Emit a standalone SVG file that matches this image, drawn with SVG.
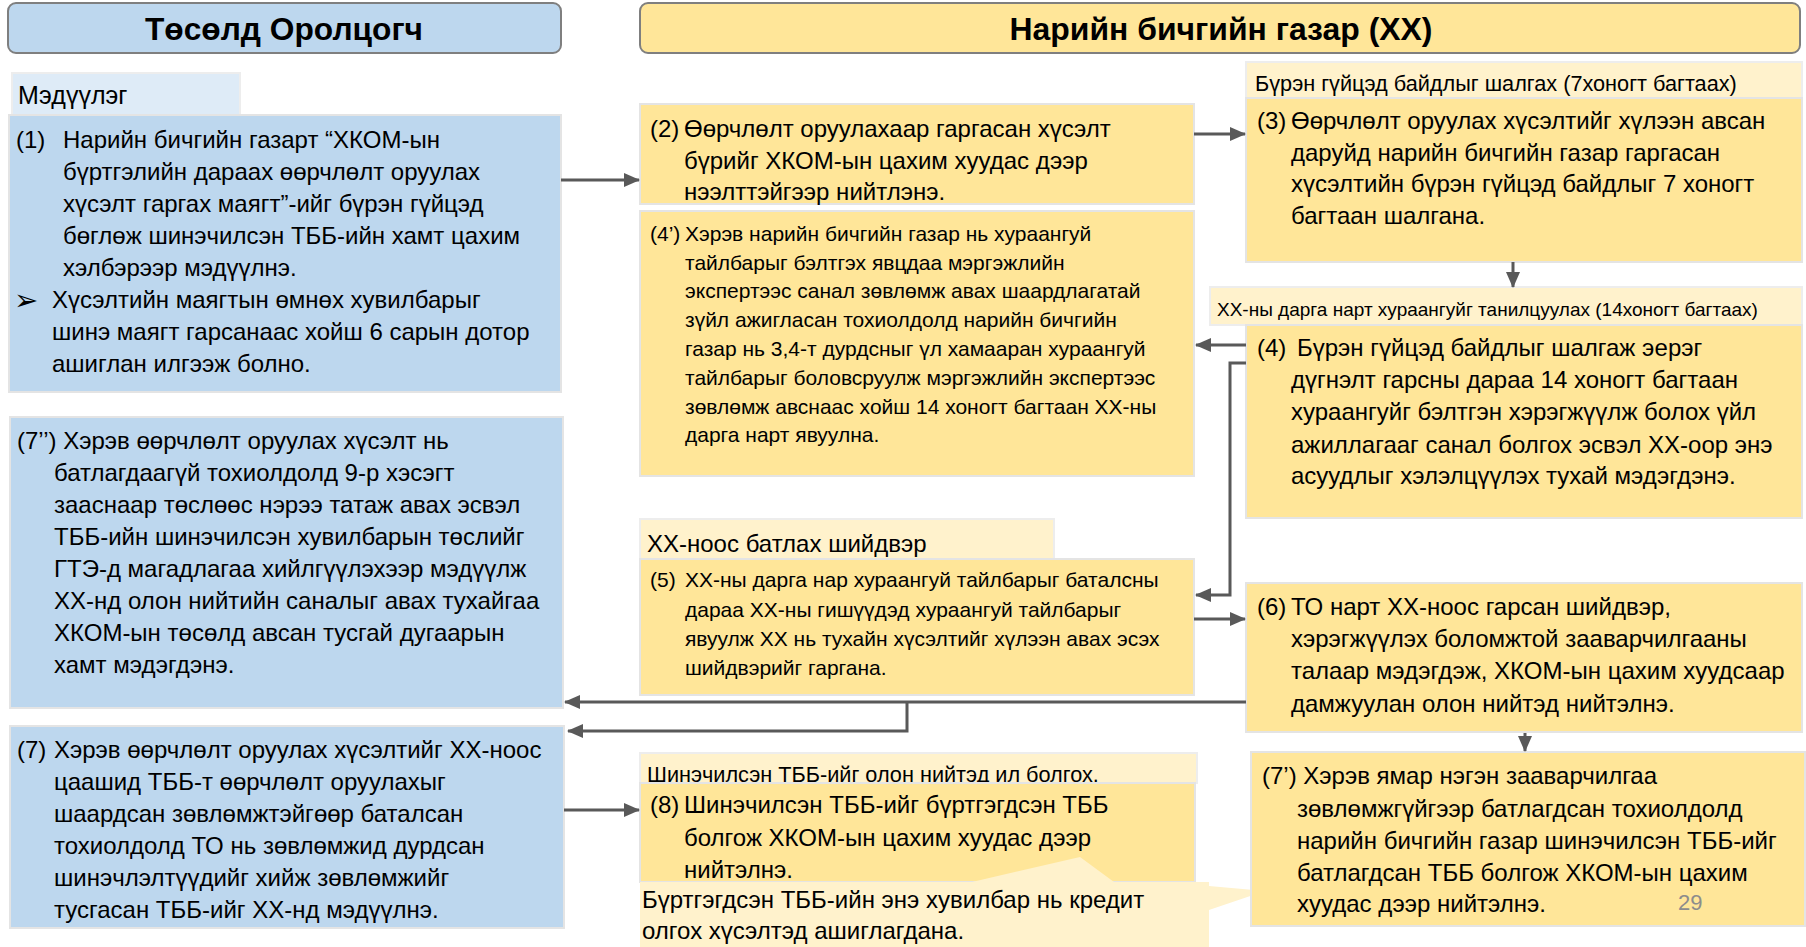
<svg xmlns="http://www.w3.org/2000/svg" width="1806" height="947" viewBox="0 0 1806 947">
<style>
.hdr{stroke:#7F7F7F;stroke-width:2}
.blue{fill:#BDD7EE;stroke:#E4E4E4;stroke-width:2}
.lblue{fill:#DEEBF7;stroke:#EDEDED;stroke-width:2}
.yel{fill:#FFE699;stroke:#E4E4E4;stroke-width:2}
.lyel{fill:#FFF2CC;stroke:#EDEDED;stroke-width:2}
text{font-family:"Liberation Sans",Arial,sans-serif;fill:#000}
.ttl{font-size:31px;font-weight:bold}
.b{font-size:24px}
.m{font-size:21px}
.lb{font-size:21.7px}
.ls{font-size:19px}
.sym{font-family:"DejaVu Sans",sans-serif;font-size:29px}
.pg{font-size:22px;fill:#8C8C8C}
.c{fill:none;stroke:#595959;stroke-width:3}
</style>
<defs>
<marker id="ah" markerUnits="userSpaceOnUse" markerWidth="16" markerHeight="14" viewBox="0 0 16 14" refX="15" refY="7" orient="auto">
<path d="M0,0 L16,7 L0,14 z" fill="#595959"/>
</marker>
</defs>
<rect width="1806" height="947" fill="#FFFFFF"/>

<g id="header-left">
<rect class="hdr" x="8" y="3" width="553" height="50" rx="8" fill="#BDD7EE"/>
<text class="ttl" x="284" y="40" text-anchor="middle" textLength="278" lengthAdjust="spacingAndGlyphs">Төсөлд Оролцогч</text>
</g>
<g id="header-right">
<rect class="hdr" x="640" y="3" width="1160" height="50" rx="8" fill="#FFE699"/>
<text class="ttl" x="1221" y="40" text-anchor="middle" textLength="423" lengthAdjust="spacingAndGlyphs">Нарийн бичгийн газар (ХХ)</text>
</g>

<g id="label-1">
<rect class="lblue" x="12" y="73" width="228" height="42"/>
<text x="18" y="104" font-size="25">Мэдүүлэг</text>
</g>
<g id="node-1">
<rect class="blue" x="9" y="115" width="552" height="277"/>
<text class="b" x="16" y="148">(1)</text>
<text class="b" x="63" y="148">Нарийн бичгийн газарт “ХКОМ-ын</text>
<text class="b" x="63" y="180">бүртгэлийн дараах өөрчлөлт оруулах</text>
<text class="b" x="63" y="212">хүсэлт гаргах маягт”-ийг бүрэн гүйцэд</text>
<text class="b" x="63" y="244">бөглөж шинэчилсэн ТББ-ийн хамт цахим</text>
<text class="b" x="63" y="276">хэлбэрээр мэдүүлнэ.</text>
<text class="sym" x="14" y="310">➢</text>
<text class="b" x="52" y="308">Хүсэлтийн маягтын өмнөх хувилбарыг</text>
<text class="b" x="52" y="340">шинэ маягт гарсанаас хойш 6 сарын дотор</text>
<text class="b" x="52" y="372">ашиглан илгээж болно.</text>
</g>

<g id="node-7pp">
<rect class="blue" x="10" y="417" width="553" height="291"/>
<text class="b" x="17" y="449">(7’’) Хэрэв өөрчлөлт оруулах хүсэлт нь</text>
<text class="b" x="54" y="481">батлагдаагүй тохиолдолд 9-р хэсэгт</text>
<text class="b" x="54" y="513">зааснаар төслөөс нэрээ татаж авах эсвэл</text>
<text class="b" x="54" y="545">ТББ-ийн шинэчилсэн хувилбарын төслийг</text>
<text class="b" x="54" y="577">ГТЭ-д магадлагаа хийлгүүлэхээр мэдүүлж</text>
<text class="b" x="54" y="609">ХХ-нд олон нийтийн саналыг авах тухайгаа</text>
<text class="b" x="54" y="641">ХКОМ-ын төсөлд авсан тусгай дугаарын</text>
<text class="b" x="54" y="673">хамт мэдэгдэнэ.</text>
</g>

<g id="node-7">
<rect class="blue" x="10" y="726" width="554" height="202"/>
<text class="b" x="17" y="758">(7)</text>
<text class="b" x="54" y="758">Хэрэв өөрчлөлт оруулах хүсэлтийг ХХ-ноос</text>
<text class="b" x="54" y="790">цаашид ТББ-т өөрчлөлт оруулахыг</text>
<text class="b" x="54" y="822">шаардсан зөвлөмжтэйгөөр баталсан</text>
<text class="b" x="54" y="854">тохиолдолд ТО нь зөвлөмжид дурдсан</text>
<text class="b" x="54" y="886">шинэчлэлтүүдийг хийж зөвлөмжийг</text>
<text class="b" x="54" y="918">тусгасан ТББ-ийг ХХ-нд мэдүүлнэ.</text>
</g>

<g id="node-2">
<rect class="yel" x="640" y="104" width="554" height="100"/>
<text class="b" x="650" y="137">(2)</text>
<text class="b" x="684" y="137">Өөрчлөлт оруулахаар гаргасан хүсэлт</text>
<text class="b" x="684" y="169">бүрийг ХКОМ-ын цахим хуудас дээр</text>
<text class="b" x="684" y="200">нээлттэйгээр нийтлэнэ.</text>
</g>

<g id="node-4p">
<rect class="yel" x="640" y="211" width="554" height="265"/>
<text class="m" x="650" y="241">(4’)</text>
<text class="m" x="685" y="241">Хэрэв нарийн бичгийн газар нь хураангуй</text>
<text class="m" x="685" y="270">тайлбарыг бэлтгэх явцдаа мэргэжлийн</text>
<text class="m" x="685" y="298">экспертээс санал зөвлөмж авах шаардлагатай</text>
<text class="m" x="685" y="327">зүйл ажигласан тохиолдолд нарийн бичгийн</text>
<text class="m" x="685" y="356">газар нь 3,4-т дурдсныг үл хамааран хураангуй</text>
<text class="m" x="685" y="385">тайлбарыг боловсруулж мэргэжлийн экспертээс</text>
<text class="m" x="685" y="414">зөвлөмж авснаас хойш 14 хоногт багтаан ХХ-ны</text>
<text class="m" x="685" y="442">дарга нарт явуулна.</text>
</g>

<g id="label-5">
<rect class="lyel" x="640" y="519" width="414" height="40"/>
<text class="b" x="647" y="552">ХХ-ноос батлах шийдвэр</text>
</g>
<g id="node-5">
<rect class="yel" x="640" y="559" width="554" height="136"/>
<text class="m" x="650" y="587">(5)</text>
<text class="m" x="685" y="587">ХХ-ны дарга нар хураангуй тайлбарыг баталсны</text>
<text class="m" x="685" y="617">дараа ХХ-ны гишүүдэд хураангуй тайлбарыг</text>
<text class="m" x="685" y="646">явуулж ХХ нь тухайн хүсэлтийг хүлээн авах эсэх</text>
<text class="m" x="685" y="675">шийдвэрийг гаргана.</text>
</g>

<g id="label-8">
<rect class="lyel" x="640" y="753" width="557" height="30"/>
<text class="lb" x="647" y="782">Шинэчилсэн ТББ-ийг олон нийтэд ил болгох.</text>
</g>
<g id="node-8">
<rect class="yel" x="640" y="783" width="555" height="99"/>
<text class="b" x="650" y="813">(8)</text>
<text class="b" x="684" y="813">Шинэчилсэн ТББ-ийг бүртгэгдсэн ТББ</text>
<text class="b" x="684" y="846">болгож ХКОМ-ын цахим хуудас дээр</text>
<text class="b" x="684" y="878">нийтэлнэ.</text>
</g>

<g id="callout">
<polygon points="640,882 972,882 1080,857 1114,882 1209,882 1209,886 1265,891 1209,910 1209,947 640,947" fill="#FFF2CC"/>
<text class="b" x="642" y="908">Бүртгэгдсэн ТББ-ийн энэ хувилбар нь кредит</text>
<text class="b" x="642" y="939">олгох хүсэлтэд ашиглагдана.</text>
</g>

<g id="label-3">
<rect class="lyel" x="1246" y="62" width="556" height="36"/>
<text class="lb" x="1255" y="91">Бүрэн гүйцэд байдлыг шалгах (7хоногт багтаах)</text>
</g>
<g id="node-3">
<rect class="yel" x="1246" y="98" width="556" height="164"/>
<text class="b" x="1257" y="129">(3)</text>
<text class="b" x="1291" y="129">Өөрчлөлт оруулах хүсэлтийг хүлээн авсан</text>
<text class="b" x="1291" y="161">даруйд нарийн бичгийн газар гаргасан</text>
<text class="b" x="1291" y="192">хүсэлтийн бүрэн гүйцэд байдлыг 7 хоногт</text>
<text class="b" x="1291" y="224">багтаан шалгана.</text>
</g>

<g id="label-4">
<rect class="lyel" x="1210" y="287" width="592" height="38"/>
<text class="ls" x="1217" y="316">ХХ-ны дарга нарт хураангуйг танилцуулах (14хоногт багтаах)</text>
</g>
<g id="node-4">
<rect class="yel" x="1246" y="325" width="556" height="193"/>
<text class="b" x="1257" y="356">(4)</text>
<text class="b" x="1297" y="356">Бүрэн гүйцэд байдлыг шалгаж эерэг</text>
<text class="b" x="1291" y="388">дүгнэлт гарсны дараа 14 хоногт багтаан</text>
<text class="b" x="1291" y="420">хураангуйг бэлтгэн хэрэгжүүлж болох үйл</text>
<text class="b" x="1291" y="453">ажиллагааг санал болгох эсвэл ХХ-оор энэ</text>
<text class="b" x="1291" y="484">асуудлыг хэлэлцүүлэх тухай мэдэгдэнэ.</text>
</g>

<g id="node-6">
<rect class="yel" x="1246" y="583" width="556" height="149"/>
<text class="b" x="1257" y="615">(6)</text>
<text class="b" x="1291" y="615">ТО нарт ХХ-ноос гарсан шийдвэр,</text>
<text class="b" x="1291" y="647">хэрэгжүүлэх боломжтой зааварчилгааны</text>
<text class="b" x="1291" y="679">талаар мэдэгдэж, ХКОМ-ын цахим хуудсаар</text>
<text class="b" x="1291" y="712">дамжуулан олон нийтэд нийтэлнэ.</text>
</g>

<g id="node-7p">
<rect class="yel" x="1251" y="752" width="554" height="174"/>
<text class="b" x="1262" y="784">(7’) Хэрэв ямар нэгэн зааварчилгаа</text>
<text class="b" x="1297" y="817">зөвлөмжгүйгээр батлагдсан тохиолдолд</text>
<text class="b" x="1297" y="849">нарийн бичгийн газар шинэчилсэн ТББ-ийг</text>
<text class="b" x="1297" y="881">батлагдсан ТББ болгож ХКОМ-ын цахим</text>
<text class="b" x="1297" y="912">хуудас дээр нийтэлнэ.</text>
<text class="pg" x="1678" y="910">29</text>
</g>

<g id="connectors">
<path class="c" d="M561,180 H639" marker-end="url(#ah)"/>
<path class="c" d="M1194,134 H1245" marker-end="url(#ah)"/>
<path class="c" d="M1513,262 V287" marker-end="url(#ah)"/>
<path class="c" d="M1246,345 H1196" marker-end="url(#ah)"/>
<path class="c" d="M1246,363 H1230 V595 H1196" marker-end="url(#ah)"/>
<path class="c" d="M1194,619 H1245" marker-end="url(#ah)"/>
<path class="c" d="M1246,702 H565" marker-end="url(#ah)"/>
<path class="c" d="M907,702 V731 H568" marker-end="url(#ah)"/>
<path class="c" d="M1525,733 V751" marker-end="url(#ah)"/>
<path class="c" d="M564,810 H639" marker-end="url(#ah)"/>
</g>
</svg>
